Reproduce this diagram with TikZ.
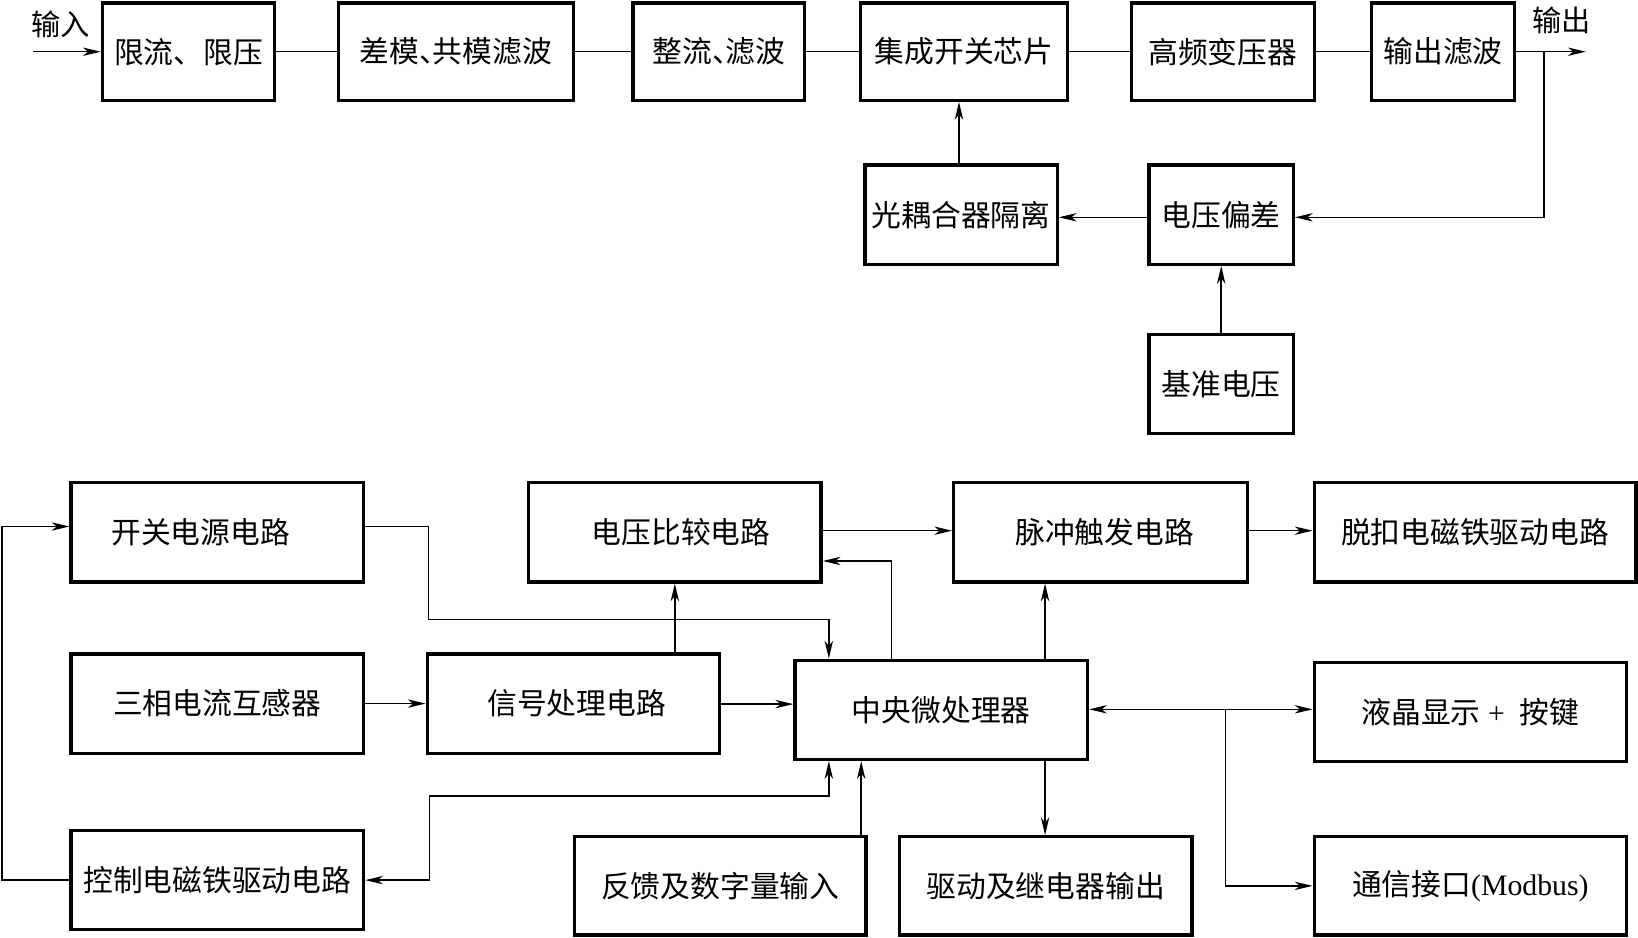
\documentclass[tikz,border=0pt]{standalone}
\usepackage{fontspec}
\setmainfont{Liberation Serif}
\newfontfamily\cjk{Noto Sans CJK SC}
\usetikzlibrary{arrows.meta,calc}
\newcommand{\ndun}{\makebox[0.45em][l]{、}}
\begin{document}
\begin{tikzpicture}[x=1pt,y=-1pt,
  box/.style={draw,line width=3.2pt,minimum height=95pt,inner sep=0pt,
    font=\cjk\fontsize{28.5}{31}\selectfont},
  ln/.style={line width=1.4pt},
  arr/.style={ln,-{Stealth[length=17pt,width=8pt,inset=5pt]}},
  arrb/.style={ln,{Stealth[length=17pt,width=8pt,inset=5pt]}-{Stealth[length=17pt,width=8pt,inset=5pt]}},
  lbl/.style={font=\cjk\fontsize{28}{31}\selectfont,inner sep=0pt}]
\useasboundingbox (0,0) rectangle (1568,897);
\fill[white] (0,0) rectangle (1568,897);
% top row
\node[box,minimum width=165pt,minimum height=93pt] (lim) at (180.5,49.5) {限流、限压};
\node[box,minimum width=225pt,minimum height=93pt] (dif) at (436.5,49.5) {差模\ndun 共模滤波};
\node[box,minimum width=164pt,minimum height=93pt] (rec) at (688,49.5) {整流\ndun 滤波};
\node[box,minimum width=198pt,minimum height=93pt] (ic) at (923,49.5) {集成开关芯片};
\node[box,minimum width=175pt,minimum height=93pt] (hft) at (1170.5,49.5) {高频变压器};
\node[box,minimum width=137pt,minimum height=93pt] (outf) at (1381.5,49.5) {输出滤波};
\node[box,minimum width=184pt] (opto) at (920,205.5) {光耦合器隔离};
\node[box,minimum width=138pt] (verr) at (1169,205.5) {电压偏差};
\node[box,minimum width=138pt] (vref) at (1169,367.5) {基准电压};
\node[lbl] (inlbl) at (58,23) {输入};
\node[lbl] (outlbl) at (1495,19) {输出};
\coordinate (inp) at (32,49.5);
\coordinate (outp) at (1518,49.5);
\coordinate (fbk) at (1478,49.5);
\draw[arr] (inp) -- (lim.west);
\draw[ln] (lim.east) -- (dif.west);
\draw[ln] (dif.east) -- (rec.west);
\draw[ln] (rec.east) -- (ic.west);
\draw[ln] (ic.east) -- (hft.west);
\draw[ln] (hft.east) -- (outf.west);
\draw[arr] (outf.east) -- (outp);
\draw[arr] (fbk) |- ([yshift=-2.5pt]verr.east);
\draw[arr] ([yshift=-2.5pt]verr.west) -- ([yshift=-2.5pt]opto.east);
\draw[arr] ([xshift=-2pt]opto.north) -- ([xshift=-2pt]opto.north |- ic.south);
\draw[arr] (vref.north) -- (verr.south);
% bottom section
\node[box,minimum width=280pt] (sw) at (208,509.5) {\hspace*{-32pt}开关电源电路};
\node[box,minimum width=280pt] (vcmp) at (646,509.5) {\hspace*{12pt}电压比较电路};
\node[box,minimum width=281pt] (pulse) at (1053.5,509.5) {\hspace*{8pt}脉冲触发电路};
\node[box,minimum width=308pt] (trip) at (1412,509.5) {脱扣电磁铁驱动电路};
\node[box,minimum width=280pt] (ct) at (208,673.5) {三相电流互感器};
\node[box,minimum width=280pt] (sig) at (549,673.5) {\hspace*{6pt}信号处理电路};
\node[box,minimum width=280pt] (cpu) at (901,679.5) {中央微处理器};
\node[box,minimum width=299pt] (lcd) at (1407.5,681.5) {液晶显示{\rmfamily\ + \ }按键};
\node[box,minimum width=280pt] (ctl) at (208,842.5) {控制电磁铁驱动电路};
\node[box,minimum width=279pt,minimum height=94pt] (fb) at (689.5,848) {反馈及数字量输入};
\node[box,minimum width=280pt,minimum height=94pt] (drv) at (1001,848) {驱动及继电器输出};
\node[box,minimum width=299pt,minimum height=94pt] (comm) at (1407.5,848) {通信接口{\rmfamily(Modbus)}};
\coordinate (swy) at (0,504);
\coordinate (k1) at (410,593);
\coordinate (k2) at (411,762);
\coordinate (lp) at (2,504);
\coordinate (br) at (1173,679);
\coordinate (cn1) at ([xshift=34pt]cpu.north west);
\coordinate (cn2) at ([xshift=94pt]cpu.north west);
\coordinate (cn3) at ([xshift=241pt]cpu.north west);
\coordinate (cs1) at ([xshift=34pt]cpu.south west);
\coordinate (cs2) at ([xshift=65pt]cpu.south west);
\coordinate (cs3) at ([xshift=241pt]cpu.south west);
\draw[arr] (sw.east |- swy) -| (k1) -| (cn1);
\draw[arr] (ct.east) -- (sig.west);
\draw[arr] ([yshift=-0.5pt]sig.east) -- ([yshift=-0.5pt]sig.east -| cpu.west);
\draw[arr] (sig.north -| vcmp.south) -- (vcmp.south);
\draw[arr] (cn2) |- ([yshift=-27.5pt]vcmp.east);
\draw[arr] ([yshift=1.5pt]vcmp.east) -- ([yshift=1.5pt]pulse.west);
\draw[arr] ([yshift=1.5pt]pulse.east) -- ([yshift=1.5pt]trip.west);
\draw[arr] (cn3) -- (cn3 |- pulse.south);
\draw[arrb] (cpu.east |- br) -- (lcd.west |- br);
\draw[arr] (br) |- (comm.west);
\draw[arr] (cs3) -- (cs3 |- drv.north);
\draw[arr] (cs2 |- fb.north) -- (cs2);
\draw[arrb] (cs1) |- (k2) |- (ctl.east);
\draw[arr] (ctl.west) -| (lp) -- (sw.west |- swy);
\end{tikzpicture}
\end{document}
